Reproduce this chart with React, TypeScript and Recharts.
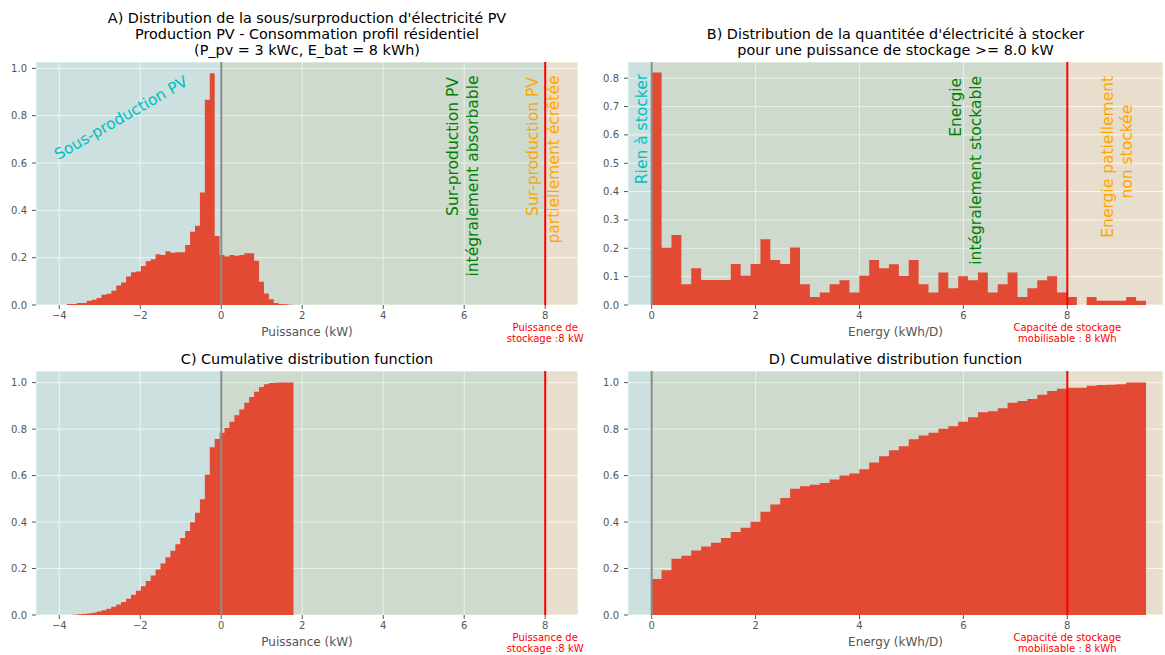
import React from "react";
import {
  AreaChart,
  Area,
  XAxis,
  YAxis,
  CartesianGrid,
  ReferenceArea,
  ReferenceLine,
  ReferenceDot,
} from "recharts";

// ---- data ----

// power histogram (kW), 46 bins
const powerBinStart = -3.81;
const powerBinWidth = 0.1216;
const powerDensity = [
  0.004, 0.004, 0.008, 0.008, 0.018, 0.022, 0.03, 0.043, 0.048, 0.06,
  0.082, 0.095, 0.12, 0.138, 0.142, 0.165, 0.185, 0.193, 0.214, 0.211,
  0.227, 0.221, 0.223, 0.223, 0.254, 0.31, 0.335, 0.475, 0.867, 0.979,
  0.292, 0.211, 0.205, 0.211, 0.208, 0.211, 0.219, 0.219, 0.187, 0.098,
  0.049, 0.024, 0.008, 0.004, 0.003, 0.001,
];
const powerCdf = [
  0.0005, 0.001, 0.003, 0.004, 0.006, 0.01, 0.015, 0.02, 0.027, 0.035,
  0.045, 0.056, 0.07, 0.087, 0.104, 0.124, 0.146, 0.17, 0.196, 0.222,
  0.249, 0.277, 0.304, 0.331, 0.362, 0.399, 0.44, 0.498, 0.604, 0.722,
  0.757, 0.784, 0.805, 0.832, 0.86, 0.884, 0.913, 0.938, 0.961, 0.981,
  0.993, 0.998, 0.999, 1.0, 1.0, 1.0,
];

// energy histogram (kWh/D), 50 bins
const energyBinStart = 0;
const energyBinWidth = 0.1903;
const energyDensity = [
  0.82, 0.202, 0.247, 0.073, 0.13, 0.088, 0.088, 0.088, 0.145, 0.103,
  0.145, 0.232, 0.159, 0.145, 0.203, 0.073, 0.028, 0.044, 0.073, 0.087,
  0.044, 0.103, 0.159, 0.13, 0.144, 0.102, 0.159, 0.073, 0.044, 0.115,
  0.059, 0.101, 0.087, 0.115, 0.044, 0.073, 0.115, 0.028, 0.059, 0.087,
  0.101, 0.044, 0.028, 0, 0.028, 0.015, 0.015, 0.015, 0.028, 0.015,
];
const energyCdf = [
  0.155, 0.193, 0.242, 0.255, 0.278, 0.295, 0.311, 0.331, 0.357, 0.375,
  0.401, 0.444, 0.476, 0.503, 0.543, 0.554, 0.56, 0.568, 0.583, 0.6,
  0.609, 0.627, 0.656, 0.683, 0.709, 0.726, 0.756, 0.772, 0.784, 0.802,
  0.812, 0.832, 0.851, 0.872, 0.877, 0.89, 0.913, 0.921, 0.93, 0.948,
  0.964, 0.974, 0.978, 0.978, 0.986, 0.99, 0.991, 0.993, 1.0, 1.0,
];

const powerTicks = [-4, -2, 0, 2, 4, 6, 8];
const energyTicks = [0, 2, 4, 6, 8];
const densityTicksA = [0, 0.2, 0.4, 0.6, 0.8, 1.0];
const densityTicksB = [0, 0.1, 0.2, 0.3, 0.4, 0.5, 0.6, 0.7, 0.8];
const cdfTicks = [0, 0.2, 0.4, 0.6, 0.8, 1.0];

const storageLimit = 8;

const RED = "#E24A33";
const CYAN = "#00BFBF";
const GREEN = "#008000";
const ORANGE = "#FFA500";

type Note = { x: number; y: number; text: string; color: string; angle: number; anchor: string };

const notesA: Note[] = [
  { x: -2.474, y: 0.79, text: "Sous-production PV", color: CYAN, angle: -30, anchor: "middle" },
  { x: 5.73, y: 0.963, text: "Sur-production PV", color: GREEN, angle: -90, anchor: "end" },
  { x: 6.22, y: 0.97, text: "intégralement absorbable", color: GREEN, angle: -90, anchor: "end" },
  { x: 7.71, y: 0.963, text: "Sur-production PV", color: ORANGE, angle: -90, anchor: "end" },
  { x: 8.21, y: 0.97, text: "partiellement écrêtée", color: ORANGE, angle: -90, anchor: "end" },
];

const notesB: Note[] = [
  { x: -0.187, y: 0.815, text: "Rien à stocker", color: CYAN, angle: -90, anchor: "end" },
  { x: 5.86, y: 0.801, text: "Energie", color: GREEN, angle: -90, anchor: "end" },
  { x: 6.24, y: 0.808, text: "intégralement stockable", color: GREEN, angle: -90, anchor: "end" },
  { x: 8.78, y: 0.808, text: "Energie patiellement", color: ORANGE, angle: -90, anchor: "end" },
  { x: 9.15, y: 0.706, text: "non stockée", color: ORANGE, angle: -90, anchor: "end" },
];

// histogram -> step points (left edge of each bin, closing point at the end)
function stepData(start: number, width: number, values: number[]) {
  const pts = values.map((v, i) => ({ x: start + i * width, y: v }));
  pts.push({ x: start + values.length * width, y: 0 });
  return pts;
}

const fmtX = (v: number) => (v < 0 ? "\u2212" + Math.abs(v) : String(v));
const fmtY = (v: number) => v.toFixed(1);

type PanelProps = {
  left: number;
  top: number;
  width: number;
  height: number;
  margin: { top: number; right: number; left: number; bottom: number };
  yAxisWidth: number;
  data: { x: number; y: number }[];
  xDomain: [number, number];
  yDomain: [number, number];
  xTicks: number[];
  yTicks: number[];
  xLabel: string;
  limitLabel: [string, string];
  notes: Note[];
};

function Panel(p: PanelProps) {
  return (
    <div style={{ position: "absolute", left: p.left, top: p.top }}>
      <AreaChart width={p.width} height={p.height} data={p.data} margin={p.margin}>
        <CartesianGrid stroke="#ffffff" fill="#E5E5E5" fillOpacity={1} />
        <ReferenceArea x1={p.xDomain[0]} x2={0} fill={CYAN} fillOpacity={0.1} stroke="none" />
        <ReferenceArea x1={0} x2={storageLimit} fill={GREEN} fillOpacity={0.1} stroke="none" />
        <ReferenceArea x1={storageLimit} x2={p.xDomain[1]} fill={ORANGE} fillOpacity={0.1} stroke="none" />
        <XAxis
          type="number"
          dataKey="x"
          domain={p.xDomain}
          ticks={p.xTicks}
          interval={0}
          allowDataOverflow
          axisLine={false}
          tickLine={{ stroke: "#555" }}
          tickSize={4}
          tickMargin={3}
          tick={{ fill: "#555", fontSize: 10 }}
          tickFormatter={fmtX}
          height={31}
          label={{ value: p.xLabel, position: "insideBottom", offset: 0, fill: "#555", fontSize: 12 }}
        />
        <YAxis
          type="number"
          domain={p.yDomain}
          ticks={p.yTicks}
          interval={0}
          allowDataOverflow
          axisLine={false}
          tickLine={{ stroke: "#555" }}
          tickSize={4}
          tickMargin={5}
          tick={{ fill: "#555", fontSize: 10 }}
          tickFormatter={fmtY}
          width={p.yAxisWidth}
        />
        <Area
          type="stepAfter"
          dataKey="y"
          stroke="none"
          fill={RED}
          fillOpacity={1}
          dot={false}
          activeDot={false}
          isAnimationActive={false}
        />
        <ReferenceLine x={0} stroke="#8c8c8c" strokeWidth={2} />
        <ReferenceLine
          x={storageLimit}
          stroke="#ff0000"
          strokeWidth={2}
          label={(lp: any) => {
            const vb = lp.viewBox || {};
            const bx = vb.x;
            const by = (vb.y || 0) + (vb.height || 0);
            return (
              <text textAnchor="middle" fill="#ff0000" fontSize={10}>
                <tspan x={bx} y={by + 25.5}>{p.limitLabel[0]}</tspan>
                <tspan x={bx} y={by + 37}>{p.limitLabel[1]}</tspan>
              </text>
            );
          }}
        />
        {p.notes.map((n, i) => (
          <ReferenceDot
            key={i}
            x={n.x}
            y={n.y}
            r={0}
            ifOverflow="visible"
            shape={(sp: any) => (
              <text
                x={sp.cx}
                y={sp.cy}
                transform={`rotate(${n.angle} ${sp.cx} ${sp.cy})`}
                textAnchor={n.anchor}
                dominantBaseline="central"
                fill={n.color}
                fontSize={15.5}
              >
                {n.text}
              </text>
            )}
          />
        ))}
      </AreaChart>
    </div>
  );
}

const titleStyle: React.CSSProperties = {
  position: "absolute",
  textAlign: "center",
  fontSize: 14.4,
  lineHeight: "16px",
  color: "#000",
  whiteSpace: "nowrap",
};

export default function App() {
  const powerHist = stepData(powerBinStart, powerBinWidth, powerDensity);
  const powerCum = stepData(powerBinStart, powerBinWidth, powerCdf);
  const energyHist = stepData(energyBinStart, energyBinWidth, energyDensity);
  const energyCum = stepData(energyBinStart, energyBinWidth, energyCdf);

  return (
    <div
      style={{
        position: "absolute",
        left: 0,
        top: 0,
        width: 1165,
        height: 655,
        background: "#fff",
        fontFamily: "'DejaVu Sans', sans-serif",
        overflow: "hidden",
      }}
    >
      <div style={{ ...titleStyle, left: 36, width: 542, top: 10 }}>
        A) Distribution de la sous/surproduction d'électricité PV
        <br />
        Production PV - Consommation profil résidentiel
        <br />
        (P_pv = 3 kWc, E_bat = 8 kWh)
      </div>
      <div style={{ ...titleStyle, left: 628, width: 535, top: 26 }}>
        B) Distribution de la quantitée d'électricité à stocker
        <br />
        pour une puissance de stockage &gt;= 8.0 kW
      </div>
      <div style={{ ...titleStyle, left: 36, width: 542, top: 351 }}>
        C) Cumulative distribution function
      </div>
      <div style={{ ...titleStyle, left: 628, width: 535, top: 351 }}>
        D) Cumulative distribution function
      </div>

      <Panel
        left={0}
        top={0}
        width={600}
        height={350}
        margin={{ top: 62, right: 22, left: 0, bottom: 14 }}
        yAxisWidth={36}
        data={powerHist}
        xDomain={[-4.575, 8.81]}
        yDomain={[0, 1.027]}
        xTicks={powerTicks}
        yTicks={densityTicksA}
        xLabel="Puissance (kW)"
        limitLabel={["Puissance de", "stockage :8 kW"]}
        notes={notesA}
      />
      <Panel
        left={590}
        top={0}
        width={575}
        height={350}
        margin={{ top: 62, right: 2, left: 0, bottom: 14 }}
        yAxisWidth={38}
        data={energyHist}
        xDomain={[-0.456, 9.842]}
        yDomain={[0, 0.857]}
        xTicks={energyTicks}
        yTicks={densityTicksB}
        xLabel="Energy (kWh/D)"
        limitLabel={["Capacité de stockage", "mobilisable : 8 kWh"]}
        notes={notesB}
      />
      <Panel
        left={0}
        top={310}
        width={600}
        height={345}
        margin={{ top: 61, right: 22, left: 0, bottom: 9 }}
        yAxisWidth={36}
        data={powerCum}
        xDomain={[-4.575, 8.81]}
        yDomain={[0, 1.05]}
        xTicks={powerTicks}
        yTicks={cdfTicks}
        xLabel="Puissance (kW)"
        limitLabel={["Puissance de", "stockage :8 kW"]}
        notes={[]}
      />
      <Panel
        left={590}
        top={310}
        width={575}
        height={345}
        margin={{ top: 61, right: 2, left: 0, bottom: 9 }}
        yAxisWidth={38}
        data={energyCum}
        xDomain={[-0.456, 9.842]}
        yDomain={[0, 1.05]}
        xTicks={energyTicks}
        yTicks={cdfTicks}
        xLabel="Energy (kWh/D)"
        limitLabel={["Capacité de stockage", "mobilisable : 8 kWh"]}
        notes={[]}
      />
    </div>
  );
}
